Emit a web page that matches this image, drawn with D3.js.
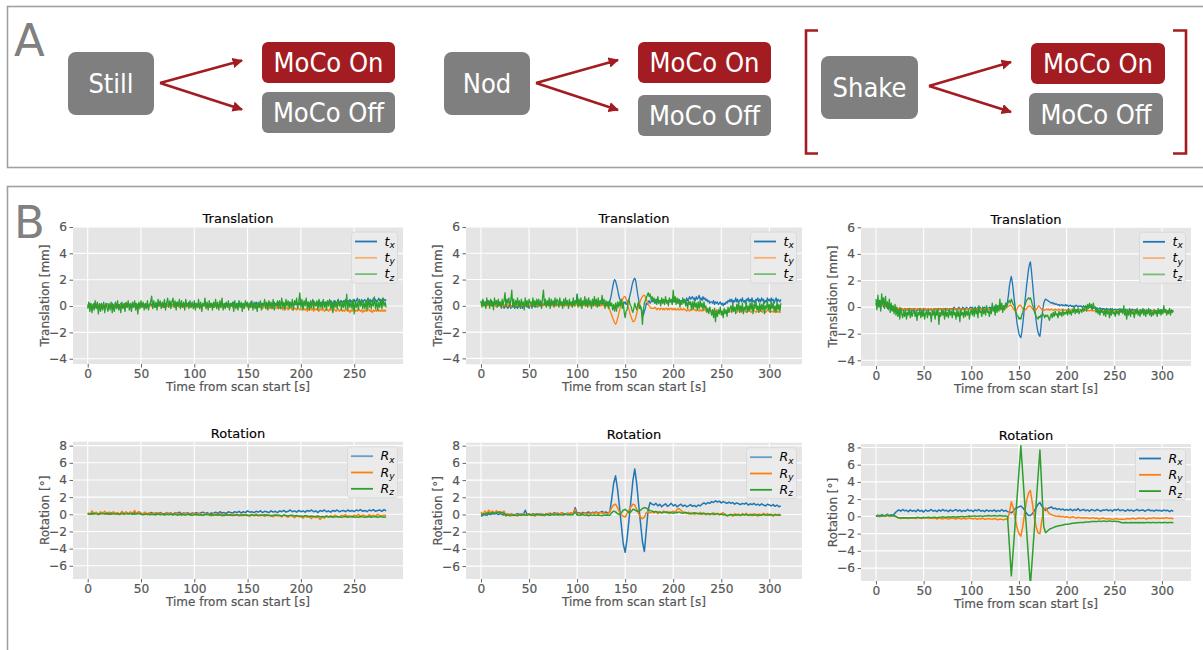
<!DOCTYPE html>
<html>
<head>
<meta charset="utf-8">
<script src="https://cdn.jsdelivr.net/npm/d3@7"></script>
<style>
  html, body { margin: 0; padding: 0; background: #fff; }
  svg { display: block; }
</style>
</head>
<body>
<svg id="fig" width="1203" height="650"></svg>
<script>
// ---------------------------------------------------------------
// Experiment design (panel A)
// ---------------------------------------------------------------
const motionConditions = ["Still", "Nod", "Shake"];
const correctionStates = ["MoCo On", "MoCo Off"];

// ---------------------------------------------------------------
// Motion traces (panel B)
// translations sampled every 1 s, rotations every 2 s
// ---------------------------------------------------------------
const stillTransTime = d3.range(0, 281, 1);
const motionTransTime = d3.range(0, 313, 1);
const stillRotTime = d3.range(0, 281, 2);
const motionRotTime = d3.range(0, 313, 2);

const axisLabels = ["x", "y", "z"];
const translationTicks = [-4, -2, 0, 2, 4, 6];
const rotationTicks = [-6, -4, -2, 0, 2, 4, 6, 8];
const timeTicks = [0, 50, 100, 150, 200, 250, 300];

// Still: translation [mm]
const stillTx = [
  .1,-.1,.2,0,-.1,.1,.2,-.1,0,.1,-.2,.1,0,.2,-.1,.1,0,-.1,.2,0,
  .1,-.1,0,.2,-.1,.1,.2,0,-.1,.1,0,.2,-.1,.1,0,.2,.1,-.1,.2,0,
  .1,0,.2,-.1,.1,.2,0,.1,-.1,.2,.1,0,.2,.1,-.1,.1,.2,0,.1,.2,
  0,.2,.1,-.1,.2,.1,0,.3,.1,0,.2,.1,-.1,.2,.1,0,.2,.1,.3,0,
  .1,.2,0,.1,.3,.1,0,.2,.1,-.1,.2,.1,0,.2,.1,.3,0,.1,.2,0,
  .1,.2,0,.1,.2,-.1,.1,0,.2,.1,0,.2,.1,-.1,.1,.2,0,.1,.2,.1,
  0,.2,.1,0,.2,.1,.3,0,.1,.2,0,.1,.2,.1,0,.2,.1,.3,.1,0,
  .2,.1,.3,0,.2,.1,.2,0,.3,.1,.2,0,.1,.3,.2,0,.2,.1,.3,.1,
  .2,0,.3,.1,.2,.1,.3,0,.2,.1,.3,.2,0,.2,.1,.3,.1,.2,0,.3,
  .1,.2,.3,.1,.2,0,.3,.2,.1,.3,.2,.1,.3,0,.2,.3,.1,.2,.3,.1,
  .3,.2,.1,.3,.2,.4,.1,.3,.2,.1,.3,.2,.4,.2,.1,.3,.2,.4,.1,.3,
  .2,.4,.2,.3,.1,.4,.3,.2,.4,.3,.1,.3,.4,.2,.3,.5,.2,.3,.4,.2,
  .4,.3,.5,.2,.4,.3,.5,.3,.4,.2,.5,.3,.4,.6,.3,.4,.2,.5,.3,.4,
  .5,.3,.4,.6,.3,.5,.4,.3,.6,.4,.5,.3,.4,.6,.4,.5,.3,.6,.4,.5,
  .4];
const stillTy = [
  0,.1,-.1,0,.1,0,-.1,.1,0,-.1,.1,0,0,-.1,.1,0,-.1,.1,0,.1,
  -.1,0,.1,0,-.1,.1,0,0,.1,-.1,0,.1,0,-.1,0,.1,0,-.1,.1,0,
  .1,0,-.1,0,.1,0,.1,-.1,0,.1,0,-.1,.1,0,0,.1,-.1,0,.1,0,
  0,-.1,.1,0,.1,-.1,0,0,.1,0,-.1,.1,0,-.1,0,.1,0,.1,-.1,0,
  .1,0,-.1,.1,0,0,-.1,.1,0,-.1,0,.1,0,-.1,.1,0,0,-.1,.1,0,
  -.1,0,.1,0,-.1,.1,0,-.1,0,.1,0,-.1,0,.1,-.1,0,.1,0,-.1,0,
  0,.1,-.1,0,0,-.1,.1,0,-.1,0,.1,0,-.1,0,0,.1,-.1,0,0,-.1,
  0,-.1,.1,0,-.1,0,0,-.1,.1,0,-.1,0,0,-.1,0,.1,-.1,0,-.1,0,
  -.1,0,-.1,0,-.2,-.1,0,-.1,-.2,-.1,-.2,-.1,-.2,0,-.1,-.2,-.1,-.2,-.1,-.2,
  -.1,-.2,-.1,-.3,-.1,-.2,-.2,-.1,-.3,-.2,-.1,-.2,-.3,-.1,-.2,-.2,-.3,-.1,-.2,-.3,
  -.2,-.3,-.1,-.2,-.3,-.2,-.4,-.2,-.3,-.1,-.3,-.2,-.4,-.2,-.3,-.2,-.3,-.4,-.2,-.3,
  -.3,-.2,-.4,-.3,-.2,-.3,-.4,-.2,-.3,-.3,-.4,-.2,-.3,-.4,-.3,-.2,-.4,-.3,-.3,-.4,
  -.3,-.4,-.2,-.3,-.4,-.3,-.5,-.3,-.4,-.2,-.3,-.4,-.3,-.4,-.2,-.3,-.4,-.3,-.5,-.3,
  -.4,-.3,-.4,-.2,-.3,-.4,-.3,-.5,-.3,-.4,-.3,-.4,-.2,-.4,-.3,-.4,-.3,-.4,-.3,-.4,
  -.3];
const stillTz = [
  -.2,.3,-.4,.2,-.5,.1,-.3,.4,-.2,.3,-.6,.2,-.4,.1,-.3,.3,-.5,.2,-.1,-.4,
  .2,-.3,.3,-.5,.1,-.4,.3,-.2,.4,-.3,.1,-.5,.3,-.2,.2,-.4,.3,-.1,.4,-.3,
  .2,-.4,.3,-.1,.4,-.3,.2,-.6,.3,-.2,.4,-.1,.3,-.3,.2,-.2,.4,-.3,.1,.3,
  .75,-.2,.4,-.1,.3,-.3,.5,0,.4,-.2,.3,-.1,.5,-.3,.2,.6,-.1,.4,-.2,.3,
  .6,-.1,.4,-.3,.3,0,.5,-.2,.4,-.1,.3,-.3,.5,0,.2,-.2,.4,-.1,.3,-.2,
  .4,-.3,.2,-.1,.5,-.2,.3,-.4,.2,0,.6,-.2,.3,-.3,.4,-.1,.2,-.3,.3,-.1,
  .5,-.2,.3,-.3,.4,-.1,.6,-.3,.2,-.2,.3,-.1,.4,-.3,.2,0,.3,-.4,.4,-.2,
  .2,-.3,.4,-.1,.3,-.4,.2,-.2,.4,0,.3,-.3,.2,-.1,.4,-.3,.3,-.2,.1,-.4,
  .3,-.1,.4,-.3,.2,0,.5,-.2,.3,-.3,.4,-.1,.3,-.2,.5,-.3,.2,0,.4,-.2,
  .4,-.2,.6,-.1,.3,-.3,.5,0,.4,-.2,.3,-.1,.5,-.3,.4,.1,.6,-.2,.3,1.0,
  -.1,.5,-.3,.4,0,.6,-.2,.3,-.3,.4,-.1,.5,-.2,.3,0,.4,-.3,.5,-.1,.3,
  -.2,.5,-.1,.3,-.3,.4,0,.5,-.2,.3,-.5,.4,-.1,.3,-.2,.5,0,.4,-.3,.3,
  -.1,.4,-.2,.9,-.3,.4,-.1,.3,-.2,.5,-.6,.4,-.1,.3,-.3,.5,0,.4,-.2,.3,
  -.2,.4,-.3,.6,-.1,.4,-.2,.3,0,.7,-.2,.4,-.3,.3,-.1,.5,-.2,.6,0,.3,
  -.1];

// Still: rotation [deg]
const stillRx = [
  0.1,0.0,0.15,0.05,0.2,0.0,0.1,0.2,0.05,0.15,
  0.0,0.2,0.1,0.05,0.15,0.0,0.2,0.1,0.25,0.05,
  0.15,0.0,0.2,0.1,0.3,0.05,0.1,0.2,0.0,0.15,
  0.2,0.05,0.15,0.0,0.2,0.1,0.05,0.2,0.1,0.15,
  0.0,0.2,0.1,0.25,0.05,0.15,0.1,0.2,0.0,0.15,
  0.1,0.2,0.05,0.15,0.25,0.1,0.2,0.05,0.15,0.1,
  0.25,0.1,0.3,0.15,0.2,0.1,0.3,0.2,0.15,0.3,
  0.2,0.35,0.15,0.3,0.2,0.4,0.25,0.3,0.2,0.35,
  0.25,0.4,0.2,0.35,0.3,0.2,0.4,0.25,0.35,0.2,
  0.4,0.3,0.45,0.25,0.35,0.5,0.3,0.4,0.25,0.45,
  0.3,0.4,0.25,0.45,0.35,0.5,0.3,0.4,0.2,0.45,
  0.35,0.5,0.3,0.4,0.25,0.45,0.35,0.5,0.3,0.4,
  0.45,0.3,0.5,0.35,0.45,0.3,0.5,0.4,0.55,0.35,
  0.45,0.3,0.5,0.4,0.55,0.35,0.45,0.5,0.35,0.55,
  0.4];
const stillRy = [
  0.2,0.0,0.4,0.1,0.25,-0.05,0.3,0.1,0.35,0.0,
  0.25,0.05,0.3,0.1,0.2,-0.05,0.35,0.1,0.25,0.0,
  0.3,0.1,0.45,0.05,0.3,0.15,0.0,0.25,-0.05,0.2,
  0.0,0.15,-0.1,0.2,0.05,0.1,-0.1,0.2,0.0,0.1,
  -0.1,0.15,0.0,0.1,-0.15,0.1,0.0,0.15,-0.1,0.05,
  0.1,-0.1,0.15,0.0,-0.15,0.1,-0.05,0.05,-0.2,0.1,
  0.0,-0.1,0.1,-0.2,0.05,-0.1,0.0,-0.15,0.1,-0.1,
  0.0,-0.2,0.05,-0.15,0.0,-0.1,-0.25,0.0,-0.15,0.05,
  -0.2,-0.05,-0.1,-0.25,0.0,-0.15,-0.1,-0.3,0.0,-0.15,
  -0.1,-0.3,-0.05,-0.2,-0.35,-0.1,-0.25,-0.4,-0.15,-0.3,
  -0.25,-0.45,-0.2,-0.35,-0.3,-0.5,-0.2,-0.4,-0.3,-0.6,
  -0.3,-0.45,-0.2,-0.35,-0.15,-0.3,-0.1,-0.25,-0.35,-0.1,
  -0.2,-0.05,-0.25,-0.15,-0.3,-0.1,-0.2,0.0,-0.25,-0.1,
  -0.15,-0.3,-0.05,-0.2,-0.1,-0.25,0.0,-0.15,-0.2,-0.1,
  -0.15];
const stillRz = [
  0.0,0.05,0.0,0.1,0.05,0.0,0.1,0.05,0.05,0.1,
  0.05,0.0,0.1,0.05,0.0,0.05,0.1,0.0,0.05,0.1,
  0.05,0.1,0.0,0.05,0.1,0.0,-0.05,0.0,0.05,-0.05,
  0.0,-0.05,0.0,0.05,-0.05,0.0,-0.05,0.0,-0.05,0.0,
  -0.05,0.0,-0.1,-0.05,0.0,-0.05,-0.1,0.0,-0.05,-0.1,
  -0.05,0.0,-0.1,-0.05,-0.1,-0.05,0.0,-0.1,-0.05,-0.1,
  -0.05,-0.1,-0.05,-0.1,-0.15,-0.05,-0.1,-0.05,-0.15,-0.1,
  -0.05,-0.1,-0.15,-0.05,-0.1,-0.15,-0.1,-0.05,-0.15,-0.1,
  -0.1,-0.15,-0.1,-0.05,-0.15,-0.1,-0.2,-0.1,-0.15,-0.1,
  -0.15,-0.2,-0.1,-0.15,-0.2,-0.15,-0.1,-0.2,-0.15,-0.2,
  -0.2,-0.25,-0.15,-0.2,-0.25,-0.2,-0.3,-0.25,-0.2,-0.3,
  -0.25,-0.3,-0.2,-0.3,-0.25,-0.35,-0.3,-0.25,-0.3,-0.35,
  -0.3,-0.25,-0.35,-0.3,-0.25,-0.35,-0.3,-0.35,-0.25,-0.3,
  -0.35,-0.3,-0.25,-0.35,-0.3,-0.25,-0.35,-0.3,-0.3,-0.35,
  -0.3];

// Nod: translation [mm]
const nodTx = [
  .3,.1,.4,.2,0,.3,.1,.4,.2,.3,.1,.4,0,.2,.3,.1,.4,.2,0,.3,
  .1,.2,-.1,.1,-.2,0,.1,-.1,-.2,0,.1,-.2,0,-.1,.1,-.2,0,-.1,-.2,.1,
  0,-.1,.1,-.2,0,-.1,.1,0,-.1,.1,-.2,0,.1,-.1,0,.1,-.1,.1,0,-.1,
  .2,0,.1,.2,0,.1,.2,.1,0,.2,.1,.3,0,.1,.2,0,.2,.1,.3,.1,
  .1,.2,0,.1,.3,.1,.2,0,.1,.3,.2,.1,0,.2,.1,.3,.1,.2,0,.2,
  .9,.3,.1,.2,0,.1,.3,.1,.2,0,.2,.1,.3,.1,0,.2,.1,.3,.2,0,
  .1,.3,.1,.2,0,.2,.1,.3,.2,0,.2,.1,.3,.2,.4,.6,1.0,1.4,1.8,2.0,
  1.9,1.6,1.3,.9,.6,.4,.3,.2,.1,.2,.3,.1,.2,.4,.5,.8,1.1,1.5,1.8,2.0,
  2.1,1.9,1.4,.9,.5,.1,-.1,-.3,-.5,-.7,-.4,-.2,.2,.1,.3,.4,.2,.3,.5,.3,
  .4,.2,.3,.5,.3,.2,.4,.3,.5,.2,.4,.3,.5,.3,.4,.2,.5,.3,.4,.2,
  .4,.3,.5,.3,.4,.2,.5,.3,.4,.3,.5,.3,.4,.2,.6,.4,.5,.7,.5,.6,
  .7,.5,.6,.4,.7,.5,.6,.8,.5,.6,.4,.7,.5,.6,.4,.5,.3,.4,.2,.3,
  .3,.2,.4,.1,.3,.2,.3,.1,.2,.3,.1,.2,0,.2,.1,.3,.2,.4,.3,.5,
  .3,.5,.2,.4,.3,.6,.3,.5,.2,.4,.5,.3,.6,.3,.4,.2,.5,.4,.6,.3,
  .5,.3,.6,.3,.4,.2,.5,.4,.6,.3,.5,.3,.6,.4,.5,.2,.4,.3,.6,.4,
  .5,.3,.6,.4,.5,.2,.4,.6,.3,.5,.4,.3,.5];
const nodTy = [
  .1,0,.2,0,.1,-.1,.1,0,.1,0,.1,0,.2,0,.1,0,-.1,.1,0,.1,
  0,.1,-.1,0,.1,0,.1,0,.1,0,.1,-.1,0,.1,0,.1,0,.1,0,.1,
  .1,0,0,.1,0,.1,0,.1,0,.1,0,.1,0,0,.1,0,.1,0,.1,0,
  0,.1,0,0,.1,0,.1,0,0,.1,.1,0,.1,0,0,.1,0,.1,0,.1,
  0,.1,0,.1,0,0,.1,0,.1,0,.1,0,.1,0,0,.1,0,.1,0,.1,
  .1,0,.1,0,0,.1,0,.1,0,.1,0,.1,0,0,.1,0,.1,0,.1,0,
  0,.1,0,0,.1,0,.1,0,0,.1,0,0,-.1,-.2,-.3,-.5,-.7,-.9,-1.1,-1.3,
  -1.4,-1.3,-1.0,-.7,-.4,-.1,.2,.4,.6,.7,.7,.5,.3,0,-.3,-.6,-.8,-1.0,-1.2,-1.2,
  -1.1,-.9,-.6,-.3,0,.2,.4,.6,.7,.8,.8,.7,.5,.3,.1,0,-.1,-.2,-.2,-.2,
  -.2,-.1,-.2,-.3,-.2,-.2,-.3,-.2,-.2,-.3,-.2,-.3,-.2,-.2,-.3,-.2,-.3,-.2,-.2,-.3,
  -.2,-.3,-.2,-.3,-.3,-.2,-.3,-.3,-.2,-.3,-.3,-.2,-.3,-.3,-.4,-.3,-.3,-.4,-.3,-.3,
  -.3,-.2,-.3,-.3,-.4,-.3,-.3,-.4,-.3,-.4,-.3,-.4,-.3,-.3,-.4,-.3,-.4,-.4,-.3,-.4,
  -.4,-.3,-.4,-.5,-.4,-.3,-.4,-.4,-.5,-.4,-.4,-.5,-.4,-.3,-.4,-.5,-.4,-.4,-.5,-.4,
  -.4,-.3,-.4,-.4,-.3,-.4,-.5,-.4,-.3,-.4,-.4,-.5,-.4,-.3,-.4,-.4,-.5,-.4,-.4,-.3,
  -.4,-.5,-.4,-.4,-.3,-.4,-.5,-.4,-.4,-.5,-.4,-.3,-.4,-.5,-.4,-.4,-.5,-.4,-.3,-.4,
  -.4,-.5,-.4,-.4,-.5,-.4,-.5,-.4,-.4,-.5,-.4,-.5,-.5];
const nodTz = [
  .4,-.1,.5,0,.3,-.2,.6,.1,.4,-.2,.5,0,.3,-.3,.6,.1,.4,-.1,.5,0,
  .3,-.2,.5,.1,.4,1.0,-.1,.5,.2,.6,-.1,.4,1.2,0,.5,-.2,.4,.1,.6,-.1,
  .4,-.2,.5,.1,.3,-.3,.6,0,.4,-.1,.5,.2,.3,-.2,.6,0,.4,-.1,.5,.1,
  .5,0,.4,-.2,.6,1.2,.1,.5,-.1,.4,0,.6,-.2,.5,.1,.4,-.1,.6,0,.5,
  .4,-.1,.6,.1,.3,-.2,.5,0,.6,.1,.4,-.2,.5,.1,.3,-.1,.6,0,.4,.2,
  .8,-.1,.5,0,.6,-.2,.4,.1,.7,0,.5,-.1,.6,.1,.4,-.2,.5,0,.7,.1,
  .5,-.1,.6,0,.4,.2,.8,.1,.5,-.2,.4,0,.3,-.2,.4,0,.2,-.3,.1,-.4,
  .2,-.4,.3,-.1,.3,0,.5,-.2,.3,-.5,-.9,-.4,-.3,.2,.5,.1,0,-.3,-.5,-.2,
  .2,-.1,-.3,.1,.3,-.2,0,-.4,-1.4,-.3,.2,.4,.6,.8,1.0,.7,.9,.5,.7,.4,
  .6,.2,.5,.1,.7,.3,.4,0,.6,.2,.5,.1,.7,.2,.4,0,.6,.3,.5,.1,
  1.2,.3,.7,.1,.6,.2,.5,-.1,.4,.1,.6,.2,.5,0,.3,-.2,.4,.1,.3,-.3,
  .3,-.2,.4,-.1,.2,-.3,.3,-.2,.4,-.1,.2,-.3,.3,-.2,0,-.5,-.2,-.6,-.1,-.4,
  -.7,-.3,-.9,-.2,-1.2,-.4,-.8,-.3,-.6,-.1,-.7,-.4,-.9,-.2,-.6,-.3,-.8,-.1,-.5,-.2,
  0,-.5,.2,-.4,-.1,-.6,.1,-.3,.3,-.5,0,-.4,.2,-.6,-.1,-.3,.3,-.5,0,-.4,
  .2,-.3,.3,-.6,.1,-.2,.4,-.3,0,-.5,.2,-.4,.1,-.3,.3,-.6,0,-.2,.4,-.3,
  .1,-.5,.4,-.2,.2,-.4,0,-.5,.3,-.3,.1,-.4,.2];

// Nod: rotation [deg]
const nodRx = [
  -0.2,-0.1,0.0,-0.1,0.1,0.0,0.1,0.05,0.15,0.0,
  0.1,0.0,-0.05,0.05,-0.1,0.0,0.05,-0.05,0.0,0.1,
  0.0,0.05,-0.05,0.5,0.0,0.05,-0.05,0.1,0.0,0.05,
  0.1,0.0,0.05,-0.05,0.1,0.0,0.15,0.05,0.2,0.1,
  0.15,0.0,0.2,0.1,0.05,0.15,0.1,0.2,0.05,0.8,
  0.15,0.2,0.1,0.25,0.15,0.2,0.3,0.1,0.25,0.2,
  0.3,0.15,0.25,0.35,0.2,0.3,0.15,0.3,1.8,3.6,
  4.5,3.0,1.0,-1.2,-3.4,-4.4,-2.8,-0.6,1.6,3.9,
  5.3,3.6,1.2,-1.0,-3.2,-4.3,-1.8,0.6,1.4,1.2,
  1.1,1.3,1.0,1.2,0.9,1.1,1.25,0.95,1.1,1.3,
  1.0,1.15,0.9,1.05,1.2,0.95,1.1,0.9,1.0,1.15,
  0.95,1.05,0.9,1.1,1.0,1.2,1.35,1.2,1.4,1.3,
  1.5,1.4,1.6,1.45,1.55,1.35,1.5,1.4,1.3,1.45,
  1.3,1.4,1.2,1.35,1.25,1.15,1.3,1.2,1.35,1.1,
  1.25,1.15,1.3,1.1,1.2,1.05,1.25,1.1,1.0,1.2,
  1.1,1.0,1.15,0.95,1.1,0.9,1.0];
const nodRy = [
  0.3,0.0,0.4,0.1,0.5,0.2,0.4,0.15,0.45,0.2,
  0.35,0.1,0.4,-0.2,0.1,-0.1,0.05,-0.15,0.0,-0.1,
  0.05,-0.1,0.1,-0.05,0.0,0.1,-0.1,0.05,-0.2,0.0,
  0.1,-0.1,0.0,-0.15,0.05,0.15,-0.05,0.1,0.0,0.2,
  -0.05,0.1,0.2,-0.1,0.05,0.15,0.0,0.2,0.05,0.6,
  0.0,0.15,-0.05,0.1,0.2,0.0,0.15,0.05,0.2,0.1,
  0.25,0.0,0.3,0.1,0.2,0.0,0.1,0.3,0.8,1.1,
  1.2,0.8,0.3,0.0,-0.2,-0.3,0.1,0.5,0.9,1.2,
  1.1,0.6,0.1,-0.3,-0.5,-0.3,0.2,0.3,0.2,0.3,
  0.2,0.35,0.1,0.3,0.15,0.4,0.2,0.35,0.1,0.3,
  0.4,0.2,0.6,0.7,0.5,0.3,0.2,0.1,0.25,0.05,
  0.2,0.0,0.15,0.1,0.25,0.0,0.2,0.05,0.15,-0.05,
  0.1,0.2,0.0,0.15,-0.05,0.1,0.2,0.0,-0.2,-0.1,
  0.0,-0.2,0.1,-0.1,0.05,-0.15,0.1,-0.05,0.15,-0.1,
  0.05,-0.15,0.1,0.0,-0.2,0.05,-0.1,0.15,-0.05,0.1,
  -0.1,0.05,-0.2,0.0,-0.1,0.05,-0.15];
const nodRz = [
  0.0,0.1,0.05,0.15,0.2,0.1,0.25,0.15,0.2,0.3,
  0.2,0.25,0.15,-0.1,-0.05,-0.15,-0.1,-0.05,-0.1,-0.15,
  -0.05,-0.1,0.0,-0.05,-0.1,0.0,-0.05,-0.1,-0.05,0.0,
  -0.05,0.0,-0.1,-0.05,0.0,-0.05,-0.1,0.0,-0.05,0.0,
  -0.05,0.0,-0.05,0.0,0.05,-0.05,0.0,-0.05,0.0,0.3,
  -0.05,-0.1,-0.05,0.0,-0.1,-0.05,-0.15,-0.05,-0.1,-0.05,
  -0.1,-0.05,-0.1,-0.15,-0.05,-0.1,-0.05,-0.1,0.2,0.4,
  0.3,0.1,0.0,0.2,0.5,0.6,0.4,0.2,0.3,0.6,
  0.55,0.4,0.35,0.5,0.7,0.8,0.75,0.6,0.45,0.4,
  0.3,0.35,0.25,0.3,0.2,0.25,0.3,0.2,0.25,0.2,
  0.15,0.25,0.2,0.3,0.2,0.15,0.25,0.2,0.1,0.15,
  0.1,0.2,0.15,0.1,0.05,0.15,0.1,0.0,0.1,0.05,
  0.1,0.0,0.05,0.1,0.0,0.05,-0.05,0.0,-0.1,-0.05,
  0.0,-0.05,-0.1,0.0,-0.05,-0.1,0.0,-0.05,0.0,-0.1,
  -0.05,0.0,-0.1,-0.05,0.0,-0.1,-0.05,0.0,-0.05,-0.1,
  0.0,-0.05,-0.1,0.0,-0.05,-0.1,-0.05];

// Shake: translation [mm]
const shakeTx = [
  .3,0,.4,.1,.5,-.1,.3,.2,0,.4,.1,.3,-.1,.2,0,-.1,-.2,-.1,-.2,-.3,
  -.1,-.2,-.1,-.2,-.3,-.1,-.2,-.1,-.2,-.3,-.1,-.2,-.2,-.1,-.3,-.2,-.1,-.2,-.3,-.1,
  -.2,-.1,-.2,-.3,-.1,-.2,-.2,-.1,-.3,-.2,-.1,-.2,-.1,-.3,-.2,-.1,-.2,-.2,-.1,-.3,
  -.2,-.1,-.2,-.1,-.3,-.2,-.1,-.2,-.1,-.2,-.3,-.1,-.2,-.1,-.2,-.1,-.3,-.1,-.2,-.1,
  -.2,-.1,0,-.2,-.1,-.2,-.1,0,-.2,-.1,-.2,0,-.1,-.2,-.1,0,-.1,-.2,-.1,0,
  -.1,0,-.2,-.1,0,-.1,-.2,0,-.1,0,-.1,-.2,0,-.1,0,-.1,0,-.2,-.1,0,
  -.1,0,-.1,0,-.1,.1,-.1,0,.1,-.1,0,.1,0,-.1,.1,0,.1,.2,.4,.9,
  1.6,2.0,2.3,1.9,1.3,.6,0,-.6,-1.2,-1.6,-2.0,-2.2,-2.3,-1.9,-1.3,-.6,.2,.9,1.6,2.2,
  2.8,3.2,3.4,2.8,2.0,1.2,.4,-.3,-1.0,-1.5,-1.9,-2.1,-2.2,-1.6,-.8,-.2,.3,.5,.6,.55,
  .5,.45,.4,.35,.3,.35,.25,.3,.2,.25,.2,.15,.2,.1,.15,.2,.1,.15,.1,.2,
  .1,.15,.05,.1,.15,.05,.1,0,.1,.05,.15,.1,0,.1,.05,.1,0,.05,.1,0,
  .05,0,.1,-.05,0,.05,-.1,0,-.05,-.1,0,-.1,-.05,-.15,-.1,-.05,-.15,-.1,-.2,-.1,
  -.15,-.2,-.1,-.2,-.15,-.25,-.1,-.2,-.15,-.25,-.2,-.15,-.2,-.25,-.15,-.2,-.3,-.2,-.15,-.25,
  -.2,-.25,-.15,-.3,-.2,-.25,-.3,-.2,-.25,-.15,-.3,-.2,-.25,-.3,-.2,-.3,-.25,-.2,-.3,-.25,
  -.3,-.2,-.25,-.3,-.2,-.35,-.25,-.3,-.2,-.3,-.25,-.35,-.2,-.3,-.25,-.3,-.35,-.25,-.3,-.2,
  -.3,-.25,-.35,-.3,-.2,-.3,-.35,-.25,-.3,-.35,-.3,-.25,-.3];
const shakeTy = [
  .2,.1,.3,.2,.1,.3,.2,.1,.2,.3,.1,.2,.1,.2,0,.1,0,.1,-.1,0,
  -.1,0,-.1,-.2,-.1,0,-.1,-.2,-.1,-.15,-.2,-.1,-.15,-.2,-.1,-.15,-.2,-.1,-.15,-.2,
  -.15,-.1,-.2,-.15,-.1,-.2,-.15,-.1,-.2,-.15,-.2,-.1,-.15,-.2,-.15,-.1,-.2,-.15,-.1,-.2,
  -.15,-.2,-.1,-.15,-.2,-.15,-.1,-.2,-.15,-.2,-.1,-.15,-.2,-.15,-.1,-.2,-.15,-.2,-.1,-.15,
  -.2,-.15,-.1,-.2,-.15,-.1,-.2,-.15,-.2,-.1,-.15,-.2,-.15,-.1,-.2,-.15,-.1,-.2,-.15,-.2,
  -.1,-.15,-.2,-.15,-.1,-.2,-.15,-.1,-.2,-.15,-.2,-.1,-.15,-.2,-.15,-.1,-.2,-.15,-.1,-.2,
  -.15,-.1,-.2,-.15,-.1,-.2,-.15,-.1,-.15,-.2,-.1,-.15,-.1,-.2,-.1,-.15,-.1,-.05,0,.05,
  .1,.15,.1,0,-.1,-.2,-.3,-.25,-.15,0,.1,.15,.1,0,-.1,-.2,-.25,-.2,-.1,0,
  .05,.1,.05,0,-.1,-.2,-.25,-.3,-.2,-.1,.05,.1,0,-.1,-.2,-.25,-.2,-.25,-.2,-.15,
  -.2,-.15,-.25,-.2,-.15,-.2,-.25,-.2,-.15,-.2,-.25,-.2,-.15,-.2,-.25,-.2,-.15,-.2,-.25,-.2,
  -.25,-.2,-.15,-.2,-.25,-.2,-.15,-.2,-.25,-.2,-.2,-.25,-.2,-.15,-.2,-.25,-.2,-.25,-.3,-.2,
  -.25,-.3,-.2,-.25,-.3,-.25,-.2,-.3,-.25,-.3,-.25,-.3,-.25,-.3,-.35,-.25,-.3,-.25,-.3,-.35,
  -.3,-.25,-.3,-.35,-.3,-.25,-.3,-.35,-.3,-.25,-.3,-.35,-.3,-.25,-.35,-.3,-.3,-.35,-.25,-.3,
  -.35,-.3,-.25,-.3,-.35,-.3,-.25,-.3,-.35,-.3,-.3,-.35,-.25,-.3,-.35,-.3,-.25,-.3,-.35,-.3,
  -.3,-.35,-.3,-.25,-.3,-.35,-.3,-.25,-.3,-.35,-.3,-.25,-.35,-.3,-.3,-.35,-.25,-.3,-.35,-.3,
  -.3,-.35,-.3,-.25,-.35,-.3,-.3,-.35,-.3,-.25,-.35,-.3,-.3];
const shakeTz = [
  .6,-.2,.9,0,.5,-.3,1.0,.2,.7,-.1,.8,0,.4,-.2,.6,-.4,.3,-.3,.1,-.5,
  .2,-.6,0,-.7,-.2,-.9,-.1,-.5,-.8,-.3,-.7,-.2,-.9,-.4,-.6,-.1,-.8,-.3,-.7,-.4,
  -.2,-.7,-.3,-1.0,-.4,-.6,-.1,-.8,-.3,-.7,-.2,-.9,-.5,-.3,-.8,-.2,-.6,-.4,-1.1,-.3,
  -.6,-.2,-.9,-.3,-.6,-.1,-1.3,-.4,-.7,-.2,-.6,-.3,-.9,-.1,-.7,-.4,-.8,-.2,-.6,-.3,
  -.8,-.1,-.6,-.4,-.9,-.2,-.7,-.3,-1.1,-.2,-.6,-.4,-.8,-.1,-.7,-.3,-.6,-.2,-.9,-.4,
  -.2,-.6,-.1,-.7,0,-.5,-.2,-.8,.1,-.4,-.3,-.7,0,-.5,-.2,-.6,.1,-.4,-.3,-.7,
  -.1,-.5,.3,-.3,0,-.6,.2,-.4,.1,-.3,.6,-.2,.3,-.4,.1,-.2,.3,0,.2,.4,
  .5,.3,.6,.4,.2,.1,-.2,-.4,-.6,-.7,-.9,-.8,-.9,-.6,-.4,-.1,.1,.3,.5,.6,
  .7,.6,.7,.5,.2,0,-.3,-.5,-.7,-.8,-.9,-.7,-.8,-.6,-.7,-.5,-.6,-.8,-.6,-.7,
  -.6,-.8,-1.0,-.7,-.5,-.8,-.4,-.7,-.3,-.6,-.5,-.8,-.3,-.6,-.4,-.7,-.2,-.6,-.4,-.5,
  -.3,-.6,-.1,-.5,-.3,-.6,-.2,-.4,0,-.5,-.2,-.4,-.1,-.5,-.3,-.2,-.4,0,-.3,-.1,
  .1,-.3,.2,-.1,.3,0,.2,-.2,.3,-.1,0,-.4,-.1,-.5,-.2,-.6,-.1,-.4,-.3,-.6,
  -.2,-.7,-.1,-.5,-.3,-.8,-.2,-.6,-.1,-.5,-.4,-.7,-.2,-.5,-.3,-.6,-.1,-.4,-.2,-.5,
  .1,-.6,-.2,-.9,-.3,-.6,-.1,-.7,-.2,-.5,-.4,-.8,-.2,-.5,-.1,-.6,-.3,-.7,-.2,-.5,
  -.1,-.6,-.2,-.7,-.3,-.5,-.1,-.6,-.2,-.7,-.4,-.6,-.2,-.5,-.3,-.7,-.1,-.5,-.2,-.6,
  -.2,-.5,.1,-.4,-.2,-.6,-.3,-.5,-.1,-.6,-.2,-.4,-.3];

// Shake: rotation [deg]
const shakeRx = [
  0.0,0.15,-0.05,0.2,0.05,0.1,0.25,0.05,0.2,0.1,
  0.4,0.6,0.75,0.6,0.8,0.65,0.7,0.55,0.75,0.6,
  0.7,0.55,0.8,0.6,0.7,0.5,0.75,0.6,0.65,0.8,
  0.6,0.7,0.55,0.75,0.6,0.8,0.65,0.7,0.55,0.75,
  0.6,0.7,0.8,0.6,0.75,0.55,0.7,0.6,0.8,0.65,
  0.7,0.55,0.75,0.65,0.8,0.6,0.7,0.55,0.75,0.6,
  0.7,0.6,0.75,0.55,0.7,0.6,0.8,0.6,0.7,0.55,
  0.5,0.4,0.6,0.9,1.0,1.1,1.2,1.0,0.7,0.35,
  0.1,0.1,0.3,0.6,1.0,1.4,1.6,1.2,0.9,0.7,
  0.9,1.0,1.1,0.9,0.95,0.8,0.9,0.75,0.85,0.7,
  0.8,0.7,0.85,0.65,0.8,0.7,0.9,0.65,0.75,0.8,
  0.65,0.75,0.6,0.8,0.7,0.65,0.8,0.7,0.6,0.75,
  0.7,0.8,0.65,0.75,0.6,0.8,0.7,0.85,0.65,0.75,
  0.7,0.6,0.8,0.65,0.75,0.6,0.7,0.8,0.65,0.7,
  0.75,0.6,0.7,0.8,0.65,0.7,0.6,0.75,0.65,0.7,
  0.6,0.75,0.65,0.7,0.55,0.7,0.6];
const shakeRy = [
  0.0,0.1,0.05,0.0,0.1,0.05,0.15,0.0,0.1,0.05,
  0.0,-0.1,-0.2,-0.25,-0.2,-0.15,-0.2,-0.25,-0.2,-0.15,
  -0.2,-0.25,-0.15,-0.2,-0.25,-0.2,-0.15,-0.2,-0.25,-0.2,
  -0.25,-0.2,-0.3,-0.2,-0.25,-0.3,-0.2,-0.25,-0.3,-0.25,
  -0.2,-0.25,-0.3,-0.2,-0.25,-0.3,-0.2,-0.3,-0.25,-0.2,
  -0.25,-0.3,-0.2,-0.35,-0.25,-0.3,-0.2,-0.35,-0.3,-0.25,
  -0.3,-0.35,-0.25,-0.3,-0.4,-0.3,-0.35,-0.4,-0.3,-0.35,
  0.4,1.7,1.0,-0.3,-1.3,-2.0,-2.3,-1.2,0.4,1.8,
  2.7,3.0,1.6,0.0,-1.2,-1.9,-2.0,-0.5,0.8,1.0,
  0.6,0.3,0.2,0.1,0.05,0.0,0.05,-0.05,0.0,-0.1,
  -0.05,-0.1,-0.15,-0.05,-0.1,-0.2,-0.1,-0.15,-0.2,-0.15,
  -0.2,-0.15,-0.25,-0.2,-0.15,-0.25,-0.2,-0.3,-0.25,-0.2,
  -0.25,-0.3,-0.25,-0.3,-0.35,-0.3,-0.25,-0.3,-0.35,-0.3,
  -0.35,-0.3,-0.25,-0.3,-0.25,-0.2,-0.3,-0.25,-0.2,-0.25,
  -0.2,-0.25,-0.3,-0.2,-0.25,-0.2,-0.15,-0.25,-0.2,-0.25,
  -0.2,-0.25,-0.15,-0.2,-0.25,-0.2,-0.3];
const shakeRz = [
  0.0,0.05,0.1,0.05,0.1,0.05,0.1,0.1,0.05,0.1,
  0.05,-0.1,-0.15,-0.2,-0.15,-0.2,-0.15,-0.2,-0.15,-0.15,
  -0.15,-0.15,-0.1,-0.15,-0.15,-0.1,-0.15,-0.1,-0.1,-0.15,
  -0.1,-0.1,-0.15,-0.1,-0.1,-0.05,-0.1,-0.1,-0.05,-0.1,
  -0.05,-0.05,-0.1,-0.05,-0.05,0.0,-0.05,-0.05,0.0,0.05,
  0.0,0.05,0.05,0.0,0.05,0.05,0.0,0.05,0.05,0.1,
  0.05,0.05,0.1,0.05,0.05,0.1,0.05,0.05,0.05,0.0,
  -3.4,-6.9,-3.9,-0.9,2.1,5.2,8.2,4.9,1.6,-1.6,
  -4.8,-8.0,-4.9,-1.7,1.4,4.6,7.7,3.2,-1.2,-1.9,
  -1.7,-1.5,-1.4,-1.3,-1.2,-1.15,-1.1,-1.05,-1.0,-0.95,
  -0.9,-0.9,-0.85,-0.8,-0.8,-0.75,-0.75,-0.7,-0.7,-0.7,
  -0.65,-0.65,-0.65,-0.6,-0.6,-0.6,-0.6,-0.55,-0.6,-0.55,
  -0.55,-0.6,-0.55,-0.55,-0.6,-0.55,-0.6,-0.6,-0.65,-0.75,
  -0.75,-0.7,-0.75,-0.75,-0.7,-0.75,-0.7,-0.75,-0.7,-0.75,
  -0.7,-0.75,-0.7,-0.7,-0.75,-0.7,-0.7,-0.75,-0.7,-0.7,
  -0.75,-0.7,-0.7,-0.75,-0.7,-0.7,-0.75];

// ---------------------------------------------------------------
// Drawing
// ---------------------------------------------------------------
const svg = d3.select("#fig");
const RED = "#a31c21";
const BOX_GRAY = "#7f7f7f";
const LETTER_GRAY = "#808080";
const COLORS = ["#1f77b4", "#ff7f0e", "#2ca02c"];
const BOX_FONT = "'DejaVu Sans Condensed', 'DejaVu Sans', sans-serif";
const PLOT_FONT = "'DejaVu Sans', sans-serif";

svg.append("rect").attr("width", 1203).attr("height", 650).attr("fill", "#fff");

// Panel frames
svg.append("rect").attr("x", 7.5).attr("y", 6.5).attr("width", 1210).attr("height", 161)
  .attr("fill", "none").attr("stroke", "#a0a0a0").attr("stroke-width", 1.6);
svg.append("rect").attr("x", 7.5).attr("y", 186.5).attr("width", 1210).attr("height", 480)
  .attr("fill", "none").attr("stroke", "#a0a0a0").attr("stroke-width", 1.6);

svg.append("text").attr("x", 14).attr("y", 56).text("A")
  .attr("font-family", PLOT_FONT).attr("font-size", 45).attr("fill", LETTER_GRAY);
svg.append("text").attr("x", 14).attr("y", 238).text("B")
  .attr("font-family", PLOT_FONT).attr("font-size", 45).attr("fill", LETTER_GRAY);

// Arrow head
svg.append("defs").append("marker")
  .attr("id", "arrowhead").attr("viewBox", "0 0 10 10").attr("refX", 9).attr("refY", 5)
  .attr("markerWidth", 4).attr("markerHeight", 4).attr("markerUnits", "strokeWidth")
  .attr("orient", "auto")
  .append("path").attr("d", "M0,0 L10,5 L0,10 Z").attr("fill", RED);

const designLayout = [
  { cond: [68, 52, 86, 63], on: [262, 42, 133, 41], off: [262, 92, 133, 41], src: [160, 83], dstOn: [242, 60.5], dstOff: [242, 109.5] },
  { cond: [444, 52, 86, 63], on: [638, 42, 133, 41], off: [638, 95, 133, 41], src: [536, 83], dstOn: [618, 60], dstOff: [618, 110] },
  { cond: [821, 56, 97, 63], on: [1031, 43, 134, 41], off: [1029, 93, 134, 42], src: [929, 86], dstOn: [1011, 62], dstOff: [1011, 112] }
];

function box(g, r, fill, radius, label) {
  g.append("rect").attr("x", r[0]).attr("y", r[1]).attr("width", r[2]).attr("height", r[3])
    .attr("rx", radius).attr("fill", fill);
  g.append("text").attr("x", r[0] + r[2] / 2).attr("y", r[1] + r[3] / 2 + 9.5)
    .attr("text-anchor", "middle").attr("fill", "#fff")
    .attr("font-family", BOX_FONT).attr("font-size", 27).text(label);
}

motionConditions.forEach((cond, i) => {
  const L = designLayout[i];
  const g = svg.append("g");
  box(g, L.cond, BOX_GRAY, 8, cond);
  box(g, L.on, RED, 6, correctionStates[0]);
  box(g, L.off, BOX_GRAY, 6, correctionStates[1]);
  [L.dstOn, L.dstOff].forEach(d => {
    g.append("line").attr("x1", L.src[0]).attr("y1", L.src[1]).attr("x2", d[0]).attr("y2", d[1])
      .attr("stroke", RED).attr("stroke-width", 2.6).attr("marker-end", "url(#arrowhead)");
  });
});

// Brackets around the shake condition
const bracket = svg.append("g").attr("fill", "none").attr("stroke", RED).attr("stroke-width", 2.6);
bracket.append("path").attr("d", "M818,30.5 L806,30.5 L806,153.5 L818,153.5");
bracket.append("path").attr("d", "M1173,30.5 L1186,30.5 L1186,153.5 L1173,153.5");

// ---------------------------------------------------------------
// Motion plots
// ---------------------------------------------------------------
const plots = [
  { kind: "t", time: stillTransTime,  series: [stillTx, stillTy, stillTz],
    box: [73, 227, 403, 364], x: [-13.8, 295.8], y: [-4.4, 6.0], legendOpacity: [1, 0.55, 0.6] },
  { kind: "t", time: motionTransTime, series: [nodTx, nodTy, nodTz],
    box: [466, 227, 802, 364.3], x: [-15.6, 334], y: [-4.45, 6.0], legendOpacity: [1, 0.55, 0.6] },
  { kind: "t", time: motionTransTime, series: [shakeTx, shakeTy, shakeTz],
    box: [861, 227.3, 1191, 366], x: [-15.7, 330.5], y: [-4.43, 6.0], legendOpacity: [1, 0.55, 0.6] },
  { kind: "r", time: stillRotTime,  series: [stillRx, stillRy, stillRz],
    box: [73, 441.7, 403, 579], x: [-13.8, 295.8], y: [-7.54, 8.46], legendOpacity: [0.65, 1, 1] },
  { kind: "r", time: motionRotTime, series: [nodRx, nodRy, nodRz],
    box: [466, 442.7, 802, 579], x: [-15.6, 334], y: [-7.5, 8.35], legendOpacity: [0.65, 1, 1] },
  { kind: "r", time: motionRotTime, series: [shakeRx, shakeRy, shakeRz],
    box: [861, 444, 1191, 581], x: [-15.7, 330.5], y: [-7.5, 8.4], legendOpacity: [1, 1, 1] }
];

plots.forEach((p, pi) => {
  const [x0, y0, x1, y1] = p.box;
  const xs = d3.scaleLinear().domain(p.x).range([x0, x1]);
  const ys = d3.scaleLinear().domain(p.y).range([y1, y0]);
  const yTicks = p.kind === "t" ? translationTicks : rotationTicks;
  const xTicks = timeTicks.filter(t => t <= p.x[1]);
  const g = svg.append("g").attr("font-family", PLOT_FONT);

  g.append("rect").attr("x", x0).attr("y", y0).attr("width", x1 - x0).attr("height", y1 - y0)
    .attr("fill", "#e5e5e5");

  // grid
  g.append("g").selectAll("line").data(xTicks).join("line")
    .attr("x1", d => xs(d)).attr("x2", d => xs(d)).attr("y1", y0).attr("y2", y1)
    .attr("stroke", "#fff").attr("stroke-width", 1.1);
  g.append("g").selectAll("line").data(yTicks).join("line")
    .attr("y1", d => ys(d)).attr("y2", d => ys(d)).attr("x1", x0).attr("x2", x1)
    .attr("stroke", "#fff").attr("stroke-width", 1.1);

  // axes
  const xAxis = d3.axisBottom(xs).tickValues(xTicks).tickSize(3.5).tickPadding(2).tickFormat(d3.format("d"));
  const yAxis = d3.axisLeft(ys).tickValues(yTicks).tickSize(3.5).tickPadding(2.5)
    .tickFormat(d => d < 0 ? "\u2212" + Math.abs(d) : String(d));
  [g.append("g").attr("transform", `translate(0,${y1})`).call(xAxis),
   g.append("g").attr("transform", `translate(${x0},0)`).call(yAxis)].forEach(a => {
    a.select(".domain").remove();
    a.selectAll(".tick line").attr("stroke", "#555").attr("stroke-width", 0.9);
    a.selectAll(".tick text").attr("fill", "#555").attr("font-size", 12.2)
      .attr("font-family", PLOT_FONT).attr("stroke", "#555").attr("stroke-width", 0.2);
  });

  // traces
  const clipId = "clip" + pi;
  g.append("clipPath").attr("id", clipId).append("rect")
    .attr("x", x0).attr("y", y0).attr("width", x1 - x0).attr("height", y1 - y0);
  const traces = g.append("g").attr("clip-path", `url(#${clipId})`);
  const lineWidth = p.kind === "t" ? 1.3 : 1.5;
  p.series.forEach((vals, si) => {
    const line = d3.line().x((d, i) => xs(p.time[i])).y(d => ys(d));
    traces.append("path").datum(vals).attr("d", line)
      .attr("fill", "none").attr("stroke", COLORS[si]).attr("stroke-width", lineWidth)
      .attr("stroke-linejoin", "round");
  });

  // titles and labels
  const cx = (x0 + x1) / 2, cy = (y0 + y1) / 2;
  g.append("text").attr("x", cx).attr("y", y0 - 3.8).attr("text-anchor", "middle")
    .attr("font-size", 13).attr("fill", "#000").attr("stroke", "#000").attr("stroke-width", 0.15)
    .text(p.kind === "t" ? "Translation" : "Rotation");
  g.append("text").attr("x", cx).attr("y", y1 + 26.5).attr("text-anchor", "middle")
    .attr("font-size", 12).attr("fill", "#555").attr("stroke", "#555").attr("stroke-width", 0.2)
    .text("Time from scan start [s]");
  g.append("text").attr("transform", `translate(${x0 - 28.5},${cy}) rotate(-90)`)
    .attr("dy", "0.35em").attr("text-anchor", "middle")
    .attr("font-size", 12).attr("fill", "#555").attr("stroke", "#555").attr("stroke-width", 0.2)
    .text(p.kind === "t" ? "Translation [mm]" : "Rotation [\u00b0]");

  // legend
  const lw = p.kind === "t" ? 46 : 50, lh = 51;
  const lx = x1 - 5.5 - lw, ly = y0 + 5;
  const lg = g.append("g");
  lg.append("rect").attr("x", lx).attr("y", ly).attr("width", lw).attr("height", lh).attr("rx", 3)
    .attr("fill", "#ebebeb").attr("stroke", "#d6d6d6").attr("stroke-width", 0.8);
  axisLabels.forEach((lab, i) => {
    const ry = ly + 9.5 + i * 16.3;
    lg.append("line").attr("x1", lx + 3.5).attr("x2", lx + 25.5).attr("y1", ry).attr("y2", ry)
      .attr("stroke", COLORS[i]).attr("stroke-width", 1.8).attr("stroke-opacity", p.legendOpacity[i]);
    const t = lg.append("text").attr("x", lx + 33).attr("y", ry + 4)
      .attr("font-size", 12.5).attr("font-style", "italic").attr("fill", "#000");
    t.append("tspan").text(p.kind === "t" ? "t" : "R");
    t.append("tspan").attr("font-size", 9).attr("dy", 2.5).text(lab);
  });
});
</script>
</body>
</html>
